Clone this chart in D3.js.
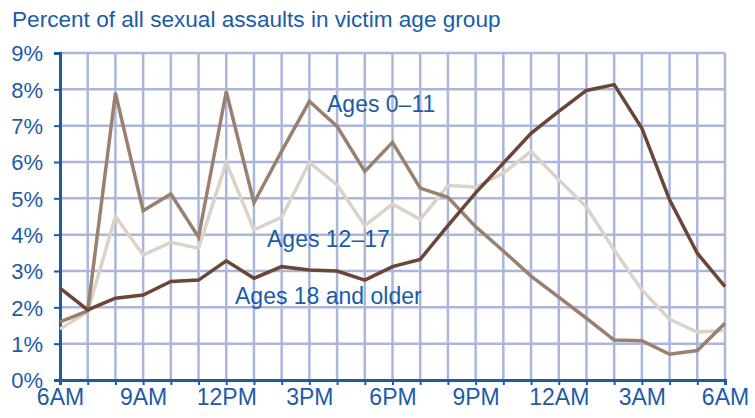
<!DOCTYPE html>
<html>
<head>
<meta charset="utf-8">
<script src="https://cdn.jsdelivr.net/npm/d3@7"></script>
<style>
  body { margin: 0; background: #fff; }
  text { font-family: "Liberation Sans", Arial, sans-serif; fill: #1d5ba6; }
</style>
</head>
<body>
<script>
// Hour slots from 6AM to 6AM the next day (0..24)
const hours = d3.range(0, 25);
const xTickHours = [0, 3, 6, 9, 12, 15, 18, 21, 24];
const xTickLabels = ["6AM", "9AM", "12PM", "3PM", "6PM", "9PM", "12AM", "3AM", "6AM"];
const yTicks = [0, 1, 2, 3, 4, 5, 6, 7, 8, 9];

// Percent of sexual assaults by hour, per victim age group
const ages0to11 = [1.6, 1.9, 7.9, 4.66, 5.12, 3.93, 7.94, 4.88, 6.3, 7.67, 6.98, 5.74, 6.54,
  5.28, 5.03, 4.22, 3.55, 2.86, 2.28, 1.7, 1.1, 1.08, 0.71, 0.81, 1.56];
const ages12to17 = [1.4, 1.88, 4.5, 3.44, 3.79, 3.63, 5.99, 4.13, 4.48, 5.99, 5.37, 4.25, 4.84,
  4.42, 5.35, 5.31, 5.69, 6.29, 5.51, 4.76, 3.58, 2.48, 1.67, 1.32, 1.36];
const ages18plus = [2.53, 1.93, 2.25, 2.34, 2.71, 2.75, 3.28, 2.8, 3.12, 3.03, 3.0, 2.75, 3.12,
  3.32, 4.25, 5.15, 5.97, 6.79, 7.39, 7.97, 8.13, 6.93, 4.96, 3.49, 2.57];

const width = 755, height = 418;
const margin = { top: 53, right: 30, bottom: 38, left: 60 };

const svg = d3.select("body").append("svg")
  .attr("width", width)
  .attr("height", height);

const x = d3.scaleLinear()
  .domain([0, 24])
  .range([margin.left, width - margin.right]);

const y = d3.scaleLinear()
  .domain([0, 9])
  .range([height - margin.bottom, margin.top]);

// Title
svg.append("text")
  .attr("x", 12)
  .attr("y", 27)
  .style("font-size", "22.6px")
  .text("Percent of all sexual assaults in victim age group");

// Grid
const gridColor = "#abb6dd";
svg.append("g").selectAll("line.v")
  .data(hours.slice(1))
  .enter().append("line")
  .attr("x1", d => x(d)).attr("x2", d => x(d))
  .attr("y1", y(0)).attr("y2", y(9))
  .attr("stroke", gridColor)
  .attr("stroke-width", 2.5);

svg.append("g").selectAll("line.h")
  .data(yTicks.slice(1))
  .enter().append("line")
  .attr("x1", x(0)).attr("x2", x(24))
  .attr("y1", d => y(d)).attr("y2", d => y(d))
  .attr("stroke", gridColor)
  .attr("stroke-width", 2.5);

// Axes
const axisColor = "#1d5ba6";
const yAxis = svg.append("g")
  .attr("transform", `translate(${margin.left},0)`)
  .call(d3.axisLeft(y).tickValues(yTicks).tickFormat(d => d + "%").tickSize(6).tickPadding(11));

const xAxis = svg.append("g")
  .attr("transform", `translate(0,${y(0)})`)
  .call(d3.axisBottom(x).tickValues(hours).tickSize(5).tickPadding(4)
    .tickFormat(d => {
      const i = xTickHours.indexOf(d);
      return i >= 0 ? xTickLabels[i] : "";
    }));

[xAxis, yAxis].forEach(a => {
  a.select(".domain").attr("stroke", axisColor).attr("stroke-width", 3);
  a.selectAll(".tick line").attr("stroke", axisColor).attr("stroke-width", 2);
  a.selectAll(".tick text").attr("fill", axisColor);
});
xAxis.selectAll(".tick text").style("font-size", "23px").attr("dy", "0.71em");
yAxis.selectAll(".tick text").style("font-size", "22px").attr("dy", "0.36em");

// Lines
const line = d3.line()
  .x((d, i) => x(hours[i]))
  .y(d => y(d));

const series = [
  { values: ages12to17, color: "#ddd2c8" },
  { values: ages0to11, color: "#9b806f" },
  { values: ages18plus, color: "#6b4536" }
];

svg.selectAll("path.series")
  .data(series)
  .enter().append("path")
  .attr("class", "series")
  .attr("d", d => line(d.values))
  .attr("fill", "none")
  .attr("stroke", d => d.color)
  .attr("stroke-width", 3.5)
  .attr("stroke-linejoin", "miter");

// Series labels
const labels = [
  { text: "Ages 0\u201311", x: 327, y: 112 },
  { text: "Ages 12\u201317", x: 267, y: 247 },
  { text: "Ages 18 and older", x: 235, y: 304 }
];
svg.selectAll("text.label")
  .data(labels)
  .enter().append("text")
  .attr("class", "label")
  .attr("x", d => d.x)
  .attr("y", d => d.y)
  .style("font-size", "23px")
  .text(d => d.text);
</script>
</body>
</html>
